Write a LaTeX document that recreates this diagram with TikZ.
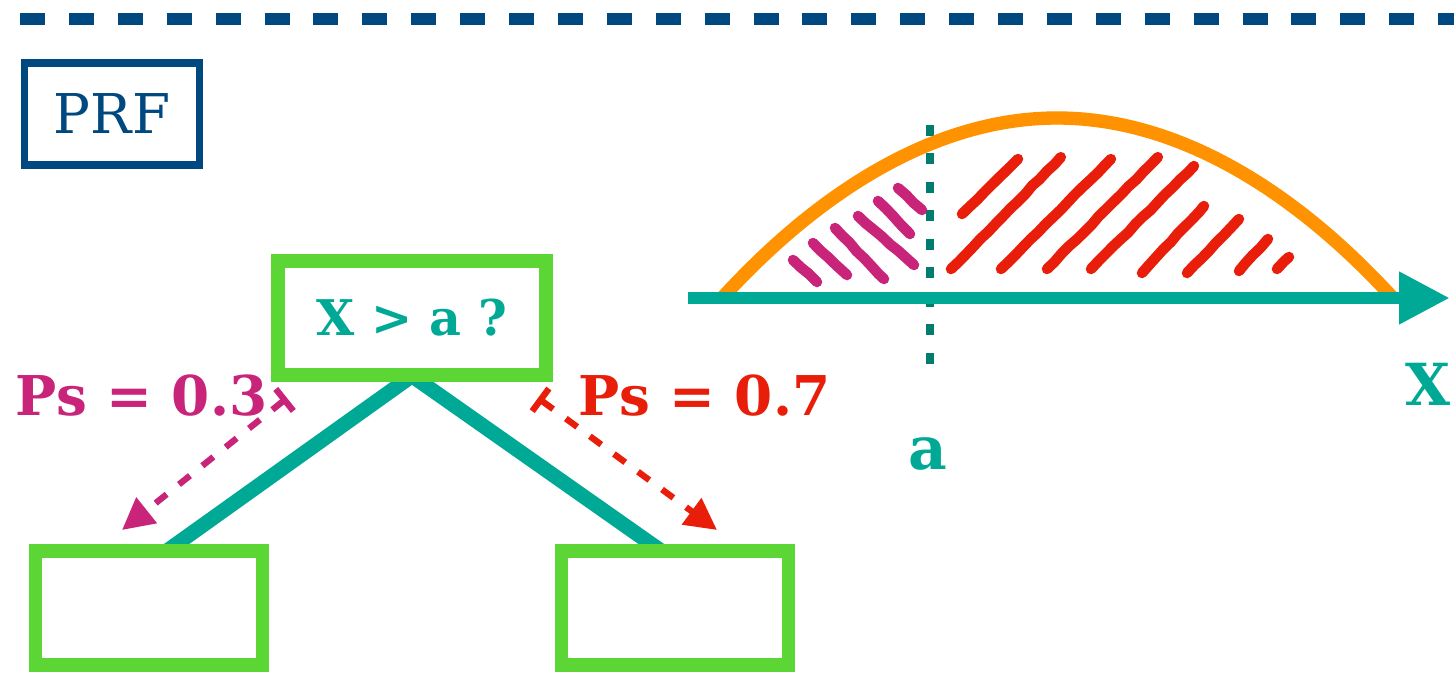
\documentclass[tikz,border=0pt]{standalone}
\usepackage{fontspec}
\setmainfont{DejaVu Serif}
\usepackage{xcolor}
\definecolor{prfblue}{RGB}{0,72,128}
\definecolor{nodegreen}{RGB}{92,214,52}
\definecolor{tealc}{RGB}{0,168,150}
\definecolor{darkteal}{RGB}{0,125,110}
\definecolor{hatchred}{RGB}{232,30,10}
\definecolor{hatchmag}{RGB}{200,36,122}
\definecolor{curveorange}{RGB}{255,146,0}
\usepackage{tikz}
\usetikzlibrary{arrows.meta, positioning, decorations.pathmorphing, backgrounds}

\begin{document}
\begin{tikzpicture}[
  splitbox/.style={rectangle, draw=nodegreen, line width=3.9pt, minimum width=#1,
                   minimum height=1.14cm, inner sep=0pt},
  branch/.style={draw=tealc, line width=4.2pt},
  psarrow/.style={draw=#1, line width=1.8pt, dash pattern=on 4pt off 4.5pt,
                  {Bar[width=8pt]}-{Triangle[length=9pt,width=9pt]}},
  pslbl/.style={font=\fontsize{15.6}{18}\selectfont\bfseries, text=#1,
                anchor=base west, inner sep=0pt},
  hatch/.style={draw=#1, line width=3pt, line cap=round, decorate,
                decoration={random steps, segment length=3pt, amplitude=0.15pt}}
]
\useasboundingbox (0,0) rectangle (14.54,6.72);

% Top rule and title
\draw[prfblue, line width=3.6pt, dash pattern=on 0.25cm off 0.239cm] (0.20,6.53) -- (14.70,6.53);
\node[rectangle, draw=prfblue, line width=2.1pt, minimum width=1.745cm, minimum height=1.02cm,
      text=prfblue, font=\fontsize{15.6}{18}\selectfont] (prf) at (1.12,5.58) {PRF};

% Tree: split node and two leaves
\node[splitbox=2.68cm, text=tealc, font=\fontsize{14}{16}\selectfont\bfseries] (root) at (4.12,3.54) {X > a ?};
\node[splitbox=2.27cm] (lleaf) at (1.49,0.64) {};
\node[splitbox=2.27cm] (rleaf) at (6.75,0.64) {};

\begin{scope}[on background layer]
  \draw[branch] ([yshift=0.06cm]root.south) -- ([xshift=0.19cm,yshift=-0.06cm]lleaf.north);
  \draw[branch] ([yshift=0.06cm]root.south) -- ([xshift=-0.15cm,yshift=-0.06cm]rleaf.north);
\end{scope}

% Probabilities of going left / right
\coordinate (lfrom) at (2.87,2.74);
\coordinate (lto) at (1.22,1.42);
\coordinate (rfrom) at (5.38,2.74);
\coordinate (rto) at (7.17,1.42);
\draw[psarrow=hatchmag] (lfrom) -- (lto);
\draw[psarrow=hatchred] (rfrom) -- (rto);
\node[pslbl=hatchmag] (pslow) at (0.15,2.57) {Ps = 0.3};
\node[pslbl=hatchred] (pshigh) at (5.78,2.57) {Ps = 0.7};

% Density of X and threshold a
\coordinate (atop) at (9.30,5.47);
\coordinate (abot) at (9.30,3.02);
\draw[darkteal, line width=2.1pt, dash pattern=on 3.1pt off 5pt] (atop) -- (abot);

\foreach \xa/\ya/\xb/\yb in {7.93/4.12/8.17/3.90, 8.13/4.29/8.47/3.97, 8.35/4.44/8.84/3.93,
                             8.58/4.56/9.14/4.07, 8.78/4.71/9.10/4.38, 8.98/4.84/9.22/4.62}
  \draw[hatch=hatchmag] (\xa,\ya) -- (\xb,\yb);
\foreach \xa/\ya/\xb/\yb in {9.62/4.58/10.18/5.13, 9.51/4.03/10.61/5.15, 10.01/4.03/11.11/5.13,
                             10.47/4.03/11.58/5.15, 10.91/4.03/11.94/5.06, 11.42/3.99/12.04/4.66,
                             11.87/3.99/12.39/4.53, 12.39/4.01/12.68/4.33, 12.77/4.03/12.89/4.15}
  \draw[hatch=hatchred] (\xa,\ya) -- (\xb,\yb);

\draw[curveorange, line width=3.8pt] (7.22,3.74) parabola bend (10.57,5.54) (13.93,3.74);

\coordinate (xstart) at (6.88,3.74);
\coordinate (xend) at (14.50,3.74);
\draw[tealc, line width=3.6pt, -{Triangle[length=14.5pt,width=14pt]}] (xstart) -- (xend);

\node[text=tealc, font=\fontsize{17}{20}\selectfont\bfseries, anchor=base, inner sep=0pt] (alabel) at (9.28,2.02) {a};
\node[text=tealc, font=\fontsize{16.5}{20}\selectfont\bfseries, anchor=base west, inner sep=0pt] (xlabel) at (14.05,2.67) {X};
\end{tikzpicture}
\end{document}
